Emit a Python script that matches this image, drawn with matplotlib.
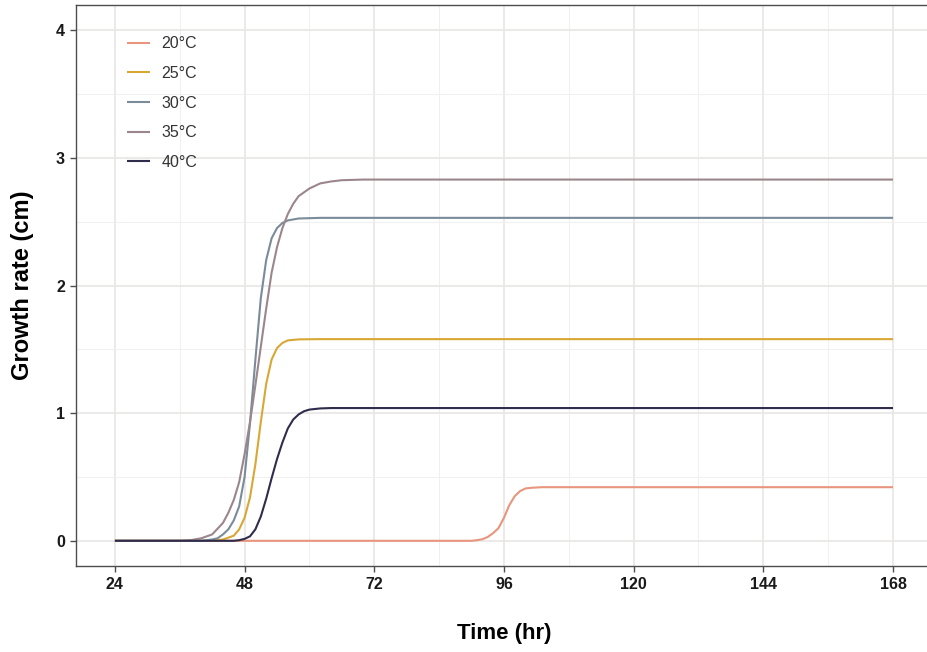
import numpy as np
import matplotlib
matplotlib.use('Agg')
from matplotlib import pyplot as plt

plt.rcParams['font.family'] = ['Liberation Sans', 'DejaVu Sans']

# Growth curves (hour, growth in cm)
t_20 = [24, 90, 91, 92, 93, 94, 95, 96, 97, 98, 99, 100, 101, 103, 168]
g_20 = [0, 0, 0.005, 0.012, 0.03, 0.06, 0.1, 0.18, 0.28, 0.35, 0.39, 0.41, 0.415, 0.42, 0.42]

t_25 = [24, 42, 44, 45, 46, 47, 48, 49, 50, 51, 52, 53, 54, 55, 56, 58, 62, 168]
g_25 = [0, 0, 0.01, 0.025, 0.04, 0.09, 0.18, 0.34, 0.6, 0.93, 1.23, 1.42, 1.51, 1.55, 1.57, 1.578, 1.58, 1.58]

t_30 = [24, 40, 42, 43, 44, 45, 46, 47, 48, 49, 50, 51, 52, 53, 54, 55, 56, 58, 62, 168]
g_30 = [0, 0, 0.01, 0.02, 0.05, 0.09, 0.16, 0.27, 0.5, 0.92, 1.42, 1.9, 2.2, 2.37, 2.45, 2.49, 2.51, 2.525, 2.53, 2.53]

t_35 = [24, 36, 38, 40, 42, 44, 45, 46, 47, 48, 49, 50, 51, 52, 53, 54, 55, 56, 57, 58, 60, 62, 64, 66, 70, 168]
g_35 = [0, 0, 0.005, 0.02, 0.05, 0.14, 0.22, 0.32, 0.46, 0.68, 0.93, 1.22, 1.52, 1.82, 2.1, 2.3, 2.45, 2.56, 2.64, 2.7, 2.76, 2.8, 2.815, 2.825, 2.83, 2.83]

t_40 = [24, 46, 47, 48, 49, 50, 51, 52, 53, 54, 55, 56, 57, 58, 59, 60, 62, 64, 168]
g_40 = [0, 0, 0.005, 0.015, 0.035, 0.09, 0.19, 0.33, 0.49, 0.64, 0.77, 0.88, 0.95, 0.99, 1.015, 1.028, 1.037, 1.04, 1.04]

labels = ['20°C', '25°C', '30°C', '35°C', '40°C']
colors = ['#e8957d', '#d9a734', '#7a8c9a', '#9b868c', '#2f2c4c']

x_ticks = [24, 48, 72, 96, 120, 144, 168]
y_ticks = [0, 1, 2, 3, 4]

fig = plt.figure(figsize=(9.28, 6.52), dpi=100)
ax = fig.add_axes([0.0819, 0.1314, 0.9223, 0.8614])

series = [(t_20, g_20), (t_25, g_25), (t_30, g_30), (t_35, g_35), (t_40, g_40)]
for (t, g), lab, col in zip(series, labels, colors):
    ax.plot(t, g, color=col, linewidth=1.5, label=lab, solid_capstyle='butt')

ax.set_xlim(16.8, 175.2)
ax.set_ylim(-0.2, 4.2)
ax.set_xticks(x_ticks)
ax.set_yticks(y_ticks)
ax.set_xticks([36, 60, 84, 108, 132, 156], minor=True)
ax.set_yticks([0.5, 1.5, 2.5, 3.5], minor=True)
ax.tick_params(which='minor', length=0)
ax.tick_params(which='major', length=4, width=1, color='#4d4d4d', pad=4,
               labelsize=11.5, labelcolor='#1a1a1a')
for lbl in ax.get_xticklabels() + ax.get_yticklabels():
    lbl.set_fontweight('bold')

ax.grid(which='major', color='#ebe7e7', linewidth=1.3)
ax.grid(which='minor', color='#f2efef', linewidth=0.7)
ax.set_axisbelow(True)
for side in ['left', 'bottom', 'top', 'right']:
    ax.spines[side].set_color('#4d4d4d')
    ax.spines[side].set_linewidth(1.0)

ax.set_xlabel('Time (hr)', fontsize=16, fontweight='bold', labelpad=22)
ax.set_ylabel('Growth rate (cm)', fontsize=17, fontweight='bold', labelpad=16)

ax.text(0.501, 4.0, 'Peanut', transform=ax.get_xaxis_transform(), ha='center', va='center',
        fontsize=13, fontweight='bold')

leg = ax.legend(loc='upper left', bbox_to_anchor=(0.059, 0.944), frameon=False, fontsize=11.5,
                handlelength=1.45, handletextpad=0.75, labelspacing=0.92, borderpad=0, borderaxespad=0)
for txt in leg.get_texts():
    txt.set_color('#333333')

fig.savefig('out.png', dpi=100)
